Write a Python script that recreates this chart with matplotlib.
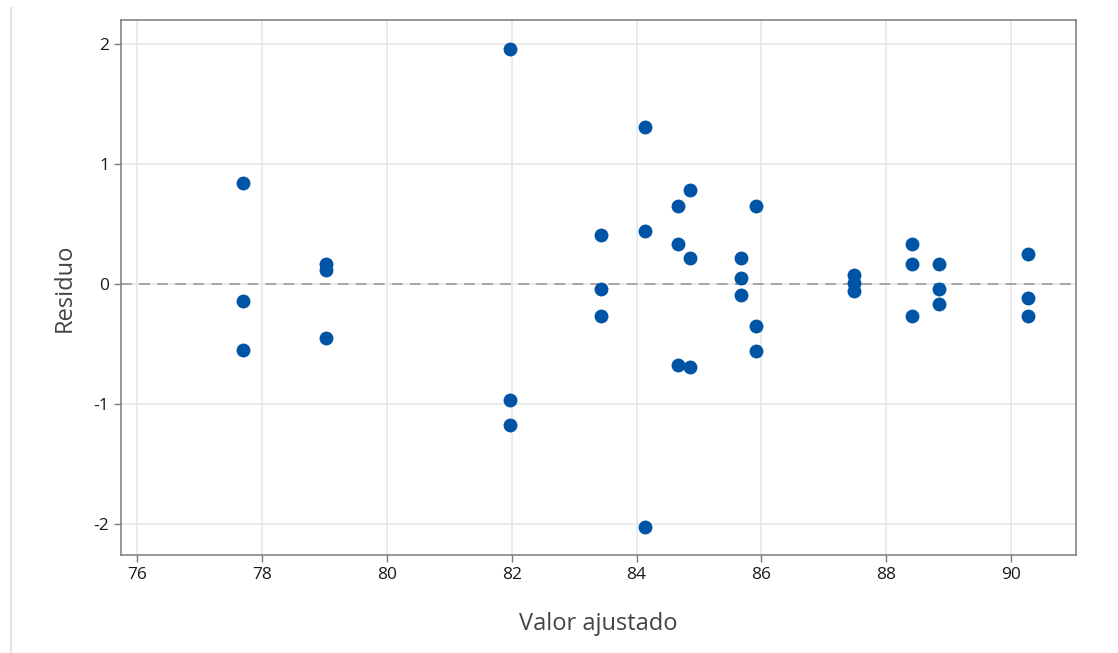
import matplotlib
matplotlib.use("Agg")
import matplotlib.pyplot as plt
from matplotlib.lines import Line2D

plt.rcParams['font.family'] = ['Open Sans', 'DejaVu Sans']

fitted = [77.70, 77.70, 77.70,
          79.03, 79.03, 79.03,
          81.97, 81.97, 81.97,
          83.43, 83.43, 83.43,
          84.14, 84.14, 84.14,
          84.67, 84.67, 84.67,
          84.86, 84.86, 84.86,
          85.68, 85.68, 85.68,
          85.92, 85.92, 85.92,
          87.49, 87.49, 87.49,
          88.41, 88.41, 88.41,
          88.84, 88.84, 88.84,
          90.27, 90.27, 90.27]
residuals = [0.84, -0.14, -0.55,
             0.17, 0.12, -0.45,
             1.96, -0.97, -1.18,
             0.41, -0.04, -0.27,
             1.31, 0.44, -2.03,
             0.65, 0.33, -0.68,
             0.78, 0.22, -0.69,
             0.22, 0.05, -0.09,
             0.65, -0.35, -0.56,
             0.075, 0.01, -0.06,
             0.33, 0.17, -0.27,
             0.17, -0.04, -0.17,
             0.25, -0.12, -0.27]
xticks = [76, 78, 80, 82, 84, 86, 88, 90]
yticks = [-2, -1, 0, 1, 2]

fig = plt.figure(figsize=(11.18, 6.53), dpi=100)
ax = fig.add_axes([121/1118, 1-555/653, (1076-121)/1118, (555-20)/653])

ax.set_xlim(75.74, 91.04)
ax.set_ylim(-2.26, 2.2)
ax.set_xticks(xticks)
ax.set_yticks(yticks)
ax.set_yticklabels([str(v) for v in yticks])
ax.grid(True, color='#e6e6e6', linewidth=1.2, zorder=0)
ax.set_axisbelow(True)
ax.axhline(0, color='#a0a0a0', linestyle=(0, (6, 4)), linewidth=1.3, zorder=1)

ax.scatter(fitted, residuals, s=100, color='#0054a6', zorder=3, linewidths=0)

for sp in ax.spines.values():
    sp.set_color('#7a7a7a')
    sp.set_linewidth(1.1)
ax.tick_params(axis='both', colors='#7a7a7a', labelcolor='#1a1a1a', labelsize=12.5, length=5, width=1)

ax.set_xlabel('Valor ajustado', fontsize=17, color='#444444', labelpad=21)
ax.set_ylabel('Residuo', fontsize=17, color='#444444', labelpad=12)

fig.add_artist(Line2D([11/1118, 11/1118], [0, 1-8/653], transform=fig.transFigure,
                      color='#e3e3e3', linewidth=1.5))

fig.savefig('out.png', dpi=100, facecolor='white')
